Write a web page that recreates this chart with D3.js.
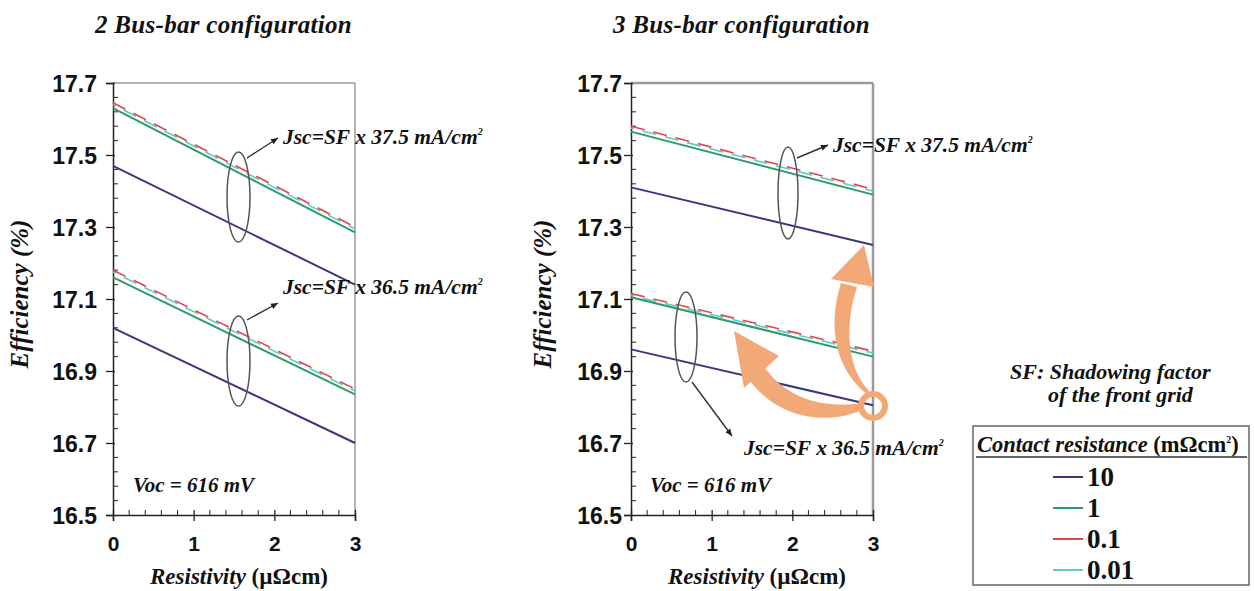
<!DOCTYPE html>
<html><head><meta charset="utf-8">
<script src="https://cdn.jsdelivr.net/npm/d3@7"></script>
<style>
body{margin:0;background:#fff;}
svg{display:block;}
</style></head>
<body>
<svg id="c" width="1254" height="591"></svg>
<script>
// ---- data ----
const resistivity = [0, 3];
const contactResistance = ["10", "1", "0.1", "0.01"];
const yTicks = [16.5, 16.7, 16.9, 17.1, 17.3, 17.5, 17.7];
const xTicks = [0, 1, 2, 3];
// 2 bus-bar, efficiency (%) at resistivity 0 and 3, per contact resistance
const bus2_J375 = [[17.47, 17.14], [17.63, 17.285], [17.645, 17.30], [17.64, 17.295]];
const bus2_J365 = [[17.02, 16.70], [17.16, 16.835], [17.18, 16.85], [17.175, 16.845]];
// 3 bus-bar
const bus3_J375 = [[17.41, 17.25], [17.565, 17.39], [17.58, 17.405], [17.575, 17.40]];
const bus3_J365 = [[16.96, 16.805], [17.105, 16.94], [17.115, 16.955], [17.11, 16.95]];

const colors = ["#38387c", "#2f9a6c", "#e0474c", "#62c9c9"];
const SERIF = '"Liberation Serif","Times New Roman","DejaVu Serif",serif';
const SANS = '"Liberation Sans",Arial,sans-serif';
const svg = d3.select("#c");

function stxt(sel, size, italic){
  return sel.style("font-family",SERIF).style("font-weight","bold").style("font-size",size+"px")
    .style("font-style", italic?"italic":"normal").attr("fill","#111");
}

function panel(cfg){
  const x = d3.scaleLinear().domain([0,3]).range([cfg.x0, cfg.x1]);
  const y = d3.scaleLinear().domain([16.5,17.7]).range([515, 83]);
  const g = svg.append("g");
  g.append("line").attr("x1",x(0)).attr("x2",x(3)).attr("y1",y(17.7)).attr("y2",y(17.7)).attr("stroke","#9a9a9a").attr("stroke-width",cfg.frameW);
  g.append("line").attr("x1",x(3)).attr("x2",x(3)).attr("y1",y(17.7)).attr("y2",y(16.5)).attr("stroke","#9a9a9a").attr("stroke-width",cfg.frameW);
  const ya = g.append("g").attr("transform",`translate(${x(0)},0)`)
    .call(d3.axisLeft(y).tickValues(yTicks).tickFormat(d3.format(".1f")).tickSize(7).tickPadding(cfg.ypad));
  ya.select(".domain").attr("stroke","#222").attr("stroke-width",1.5);
  ya.selectAll(".tick line").attr("x2",-7).attr("x1",2).attr("stroke","#222").attr("stroke-width",1.3);
  ya.selectAll("text").style("font-family",SANS).style("font-weight","bold").style("font-size","23px").attr("fill","#111").attr("dy","0.36em");
  const yMinor = d3.range(16.54, 17.7, 0.04).filter(v => Math.abs(((v-16.5)/0.2) - Math.round((v-16.5)/0.2))>0.05);
  g.selectAll(".ym").data(yMinor).join("line").attr("x1",x(0)).attr("x2",x(0)+5)
    .attr("y1",d=>y(d)).attr("y2",d=>y(d)).attr("stroke","#333").attr("stroke-width",1.1);
  const xa = g.append("g").attr("transform",`translate(0,${y(16.5)})`)
    .call(d3.axisBottom(x).tickValues(xTicks).tickFormat(d3.format("d")).tickSize(6).tickPadding(15));
  xa.select(".domain").attr("stroke","#222").attr("stroke-width",1.5);
  xa.selectAll(".tick line").attr("y1",-5).attr("y2",6).attr("stroke","#222").attr("stroke-width",1.3);
  xa.selectAll("text").style("font-family",SANS).style("font-weight","bold").style("font-size","21px").attr("fill","#111");
  const xMinor = d3.range(0.2, 3, 0.2).filter(v => Math.abs(v-Math.round(v))>0.05);
  g.selectAll(".xm").data(xMinor).join("line").attr("x1",d=>x(d)).attr("x2",d=>x(d))
    .attr("y1",y(16.5)).attr("y2",y(16.5)-5).attr("stroke","#333").attr("stroke-width",1.1);

  const line = d3.line().x((d,i)=>x(resistivity[i])).y(d=>y(d));
  [cfg.top, cfg.bot].forEach(group=>{
    [3,2,1,0].forEach(k=>{
      const p = g.append("path").attr("d", line(group[k])).attr("fill","none")
        .attr("stroke", colors[k]).attr("stroke-width", k<2?2:1.6);
      if(k===2) p.attr("stroke-dasharray","14,9");
      if(k===3) p.attr("stroke-dasharray","14,9").attr("stroke-dashoffset",11);
    });
  });

  stxt(svg.append("text").attr("x",cfg.titleX).attr("y",33), 25, true).style("letter-spacing","0.3px").text(cfg.title);
  stxt(svg.append("text").attr("transform",`translate(${cfg.yTitleX},294) rotate(-90)`).attr("text-anchor","middle"), 25, true).text("Efficiency (%)");
  const xt = stxt(svg.append("text").attr("x",(cfg.x0+cfg.x1)/2+5).attr("y",584).attr("text-anchor","middle"), 23, false);
  xt.append("tspan").style("font-style","italic").text("Resistivity ");
  xt.append("tspan").text("(\u00b5\u03a9cm)");
  stxt(svg.append("text").attr("x",cfg.vocX).attr("y",492), 21, true).text("Voc = 616 mV");
  return {x,y,g};
}

function jscLabel(xp, yp, val){
  const t = stxt(svg.append("text").attr("x",xp).attr("y",yp), 21.5, true);
  t.append("tspan").text("Jsc=SF x " + val + " mA/cm");
  t.append("tspan").attr("dy",-9).style("font-size","10px").text("2");
}
function ellipse(cx, cy, rx, ry){
  svg.append("ellipse").attr("cx",cx).attr("cy",cy).attr("rx",rx).attr("ry",ry)
    .attr("fill","none").attr("stroke","#555").attr("stroke-width",1.5);
}
function pointer(x1,y1,x2,y2){
  svg.append("line").attr("x1",x1).attr("y1",y1).attr("x2",x2).attr("y2",y2).attr("stroke","#333").attr("stroke-width",1.4);
  const a = Math.atan2(y2-y1,x2-x1), L=7, W=3;
  const p = [[x2,y2],[x2-L*Math.cos(a)+W*Math.sin(a), y2-L*Math.sin(a)-W*Math.cos(a)],[x2-L*Math.cos(a)-W*Math.sin(a), y2-L*Math.sin(a)+W*Math.cos(a)]];
  svg.append("polygon").attr("points",p.map(q=>q.join(",")).join(" ")).attr("fill","#222");
}

panel({x0:113,x1:355,top:bus2_J375,bot:bus2_J365,title:"2 Bus-bar configuration",titleX:95,yTitleX:28,ypad:9,vocX:133,frameW:1.5});
panel({x0:631,x1:873,top:bus3_J375,bot:bus3_J365,title:"3 Bus-bar configuration",titleX:613,yTitleX:551,ypad:2,vocX:650,frameW:2.5});

ellipse(238.5,197,11.5,45);
pointer(247,158,278,138);
jscLabel(283,144,"37.5");
ellipse(238.5,361,11.5,45);
pointer(247,320,278,303);
jscLabel(283,294,"36.5");

ellipse(788,193,10,46);
pointer(797,158,828,145);
jscLabel(833,152,"37.5");
ellipse(686,337,11,45);
pointer(692,382,732,436);
jscLabel(744,455,"36.5");

const orange = "#f2a877";
svg.append("circle").attr("cx",873).attr("cy",406).attr("r",12).attr("fill","none").attr("stroke",orange).attr("stroke-width",6);
svg.append("path").attr("d","M862,403 C828,408 790,402 765,368 L750,381 C782,422 830,424 862,410 Z").attr("fill",orange);
svg.append("path").attr("d","M734,331 L779,356 L744,388 Z").attr("fill",orange);
svg.append("path").attr("d","M867,394 C838,372 826,330 841,283 L857,287 C843,330 849,370 869,391 Z").attr("fill",orange);
svg.append("path").attr("d","M864,245 L874,287 L831,279 Z").attr("fill",orange);

const sf = stxt(svg.append("text"), 22, true);
sf.append("tspan").attr("x",1010).attr("y",379).text("SF: Shadowing factor");
sf.append("tspan").attr("x",1048).attr("y",402).text("of the front grid");
svg.append("rect").attr("x",973).attr("y",426).attr("width",276).attr("height",159).attr("fill","none").attr("stroke","#666").attr("stroke-width",1.5);
const hd = stxt(svg.append("text").attr("x",977).attr("y",452), 22.5, false);
hd.append("tspan").style("font-style","italic").text("Contact resistance ");
hd.append("tspan").text("(m\u03a9cm");
hd.append("tspan").attr("dy",-9).style("font-size","10px").text("2");
hd.append("tspan").attr("dy",9).text(")");
svg.append("line").attr("x1",976).attr("x2",1247).attr("y1",457).attr("y2",457).attr("stroke","#333").attr("stroke-width",1.5);
const ly = d3.scalePoint().domain(contactResistance).range([477, 570]);
contactResistance.forEach((c,i)=>{
  svg.append("line").attr("x1",1053).attr("x2",1083).attr("y1",ly(c)).attr("y2",ly(c)).attr("stroke",colors[i]).attr("stroke-width",2);
  stxt(svg.append("text").attr("x",1087).attr("y",ly(c)+9), 27, false).text(c);
});
</script>
</body></html>
